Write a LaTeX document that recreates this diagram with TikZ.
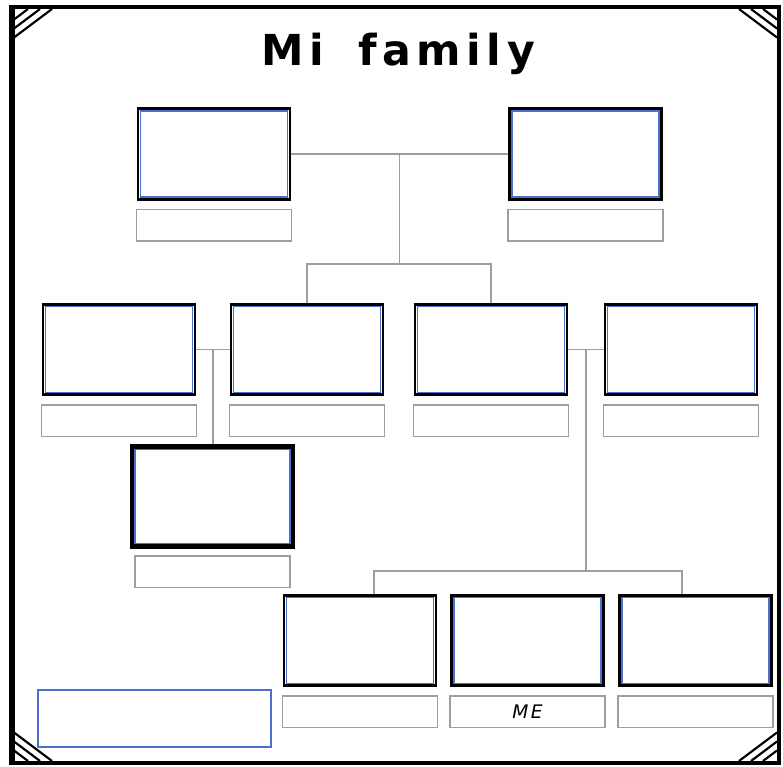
\documentclass[tikz,border=0pt]{standalone}
\usepackage{fontspec}
\setmainfont{DejaVu Sans}
\usetikzlibrary{positioning,calc}
\definecolor{photoblue}{RGB}{72,112,204}
\definecolor{linkgray}{gray}{0.62}
\definecolor{tabgray}{gray}{0.62}

\begin{document}
\begin{tikzpicture}[
  x=0.75pt,y=-0.75pt,
  photo/.style={draw=black,line width=2.2pt,fill=white,inner sep=0pt,
                minimum width=114pt,minimum height=68pt},
  bigphoto/.style={photo,line width=3.2pt,minimum width=121pt,minimum height=75pt},
  innerline/.style={draw=photoblue,line width=1.2pt},
  nametab/.style={draw=tabgray,line width=1.1pt,fill=white,inner sep=0pt,
                  minimum width=116pt,minimum height=23.5pt,
                  font=\fontsize{14}{15}\selectfont\itshape\addfontfeatures{LetterSpace=12}},
  link/.style={draw=linkgray,line width=0.8pt},
  hatch/.style={line width=1.6pt,black},
]
\useasboundingbox (0,0) rectangle (783,767);

% ---- outer frame ----
\draw[line width=3.4pt] (12,7) rectangle (779,763);
\draw[line width=4pt] (12,5) -- (12,765);
\draw[line width=2pt] (10,8) -- (781,8);
\foreach \cx/\cy/\sx/\sy in {14/9/1/1, 777/9/-1/1, 14/761/1/-1, 777/761/-1/-1}{
  \foreach \d in {14,26,38}{
    \draw[hatch] (\cx+\sx*\d,\cy) -- (\cx,\cy+\sy*0.75*\d);
  }
}

% ---- title ----
\node[font=\fontsize{32}{34}\selectfont\bfseries\addfontfeatures{LetterSpace=13}] (title) at (398,54) {Mi\hspace{26pt}family};

% ---- grandparents ----
\node[photo] (gpa) at (214,154) {};
\node[photo] (gma) at (585.5,154) {};
\node[nametab,below=6pt of gpa] (gpaname) {};
\node[nametab,below=6pt of gma] (gmaname) {};

% ---- parents, uncles, aunts ----
\node[photo] (pa) at (119,349.5) {};
\node[photo] (pb) at (307,349.5) {};
\node[photo] (pc) at (491,349.5) {};
\node[photo] (pd) at (681,349.5) {};
\foreach \p in {pa,pb,pc,pd}{
  \node[nametab,below=6pt of \p] (\p name) {};
}

% ---- cousin ----
\node[bigphoto] (cous) at (212.5,496.5) {};
\node[nametab,below=5pt of cous] (cousname) {};

% ---- siblings and me ----
\node[photo] (ka) at (360,640.5) {};
\node[photo] (kb) at (527.5,640.5) {};
\node[photo] (kc) at (695.5,640.5) {};
\node[nametab,below=6pt of ka] (kaname) {};
\node[nametab,below=6pt of kb] (kbname) {ME};
\node[nametab,below=6pt of kc] (kcname) {};

% blue inner edge of every photo frame
\foreach \b in {gpa,gma,pa,pb,pc,pd,ka,kb,kc}{
  \draw[innerline] ([shift={(2.9pt,-2.9pt)}]\b.north west) rectangle ([shift={(-2.9pt,2.9pt)}]\b.south east);
}
\draw[innerline] ([shift={(3.9pt,-3.9pt)}]cous.north west) rectangle ([shift={(-3.9pt,3.9pt)}]cous.south east);

% ---- free box ----
\node[draw=photoblue,line width=0.9pt,minimum width=174.75pt,minimum height=42.75pt,inner sep=0pt]
  (note) at (154.5,718.5) {};

% ---- links ----
\coordinate (gm) at ($(gpa.east)!0.5!(gma.west)$);
\draw[link] (gpa.east) -- (gma.west);
\draw[link] (gm) -- ++(0,110) coordinate (gd);
\draw[link] (pb.north) |- (gd) -| (pc.north);

\coordinate (m1) at ($(pa.east)!0.5!(pb.west)$);
\draw[link] (pa.east) -- (pb.west);
\draw[link] (m1) -- (m1 |- cous.north);

\coordinate (m2) at ($(pc.east)!0.5!(pd.west)$);
\draw[link] (pc.east) -- (pd.west);
\draw[link] (m2) -- ++(0,221.5) coordinate (kd);
\draw[link] ($(ka.north)+(14,0)$) |- (kd) -| ($(kc.north)+(-13.5,0)$);
\draw[link] ($(kb.north)+(4.5,0)$) -- ($(kb.north)+(4.5,0)$ |- kd);

\end{tikzpicture}
\end{document}
